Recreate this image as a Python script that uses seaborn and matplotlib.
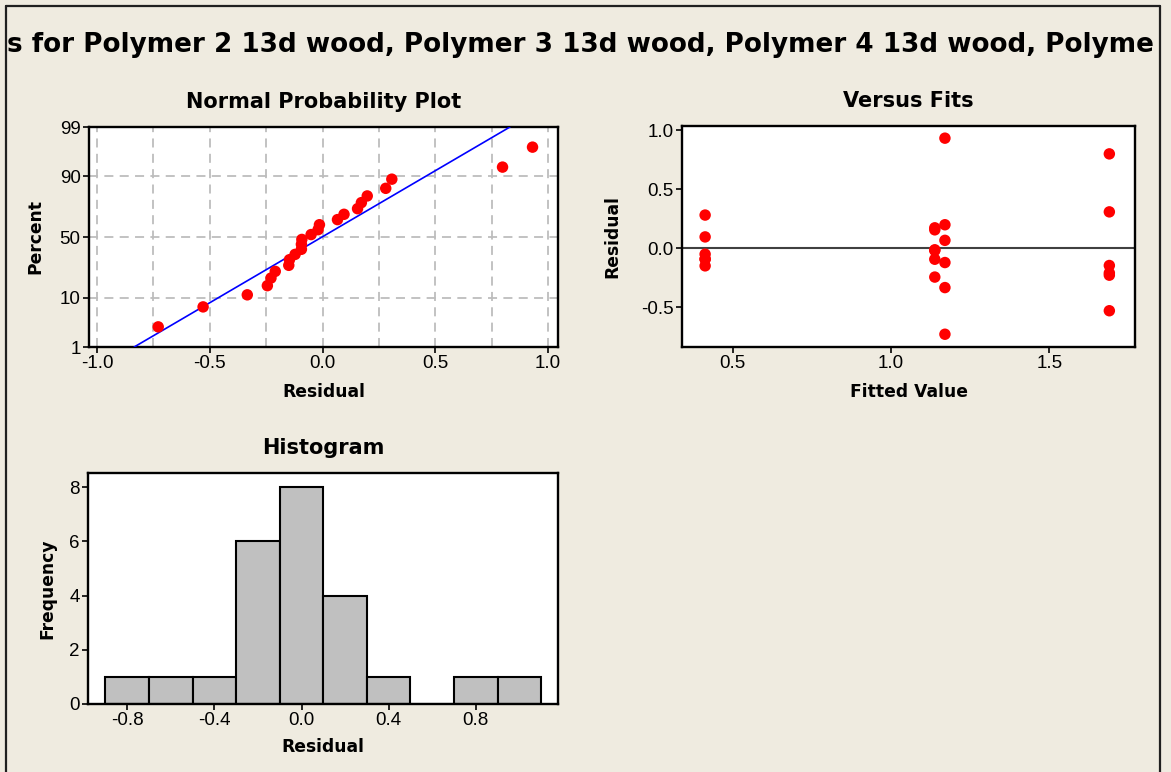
import numpy as np
import pandas as pd
import matplotlib
matplotlib.use("Agg")
import matplotlib.pyplot as plt
import seaborn as sns
from matplotlib.ticker import MultipleLocator, FixedLocator
from matplotlib.lines import Line2D
from statistics import NormalDist

# ---------------- data ----------------
fitted_levels = [0.413, 1.138, 1.170, 1.689]
res_g1 = [-0.150, -0.094, -0.092, -0.051, 0.095, 0.280]
res_g2 = [-0.245, -0.094, -0.020, -0.014, 0.155, 0.172]
res_g3 = [-0.729, -0.334, -0.122, 0.066, 0.198, 0.931]
res_g4 = [-0.530, -0.229, -0.210, -0.147, 0.307, 0.798]
pct_ticks = [1, 10, 50, 90, 99]
title_text = "s for Polymer 2 13d wood, Polymer 3 13d wood, Polymer 4 13d wood, Polyme"

groups = [res_g1, res_g2, res_g3, res_g4]
fitted = np.concatenate([[f] * len(g) for f, g in zip(fitted_levels, groups)])
resid = np.concatenate(groups)
df = pd.DataFrame({"fitted": fitted, "resid": resid})

nd = NormalDist()
n = len(resid)
srt = np.sort(resid)
pos = np.array([(i - 0.3) / (n + 0.4) for i in range(1, n + 1)])
zq = np.array([nd.inv_cdf(p) for p in pos])
prob_df = pd.DataFrame({"resid": srt, "z": zq})
mu, sd = resid.mean(), resid.std(ddof=1)
zl = np.linspace(nd.inv_cdf(0.01), nd.inv_cdf(0.99), 50)
line_df = pd.DataFrame({"x": mu + sd * zl, "z": zl})

# ---------------- style ----------------
sns.set_theme(style="white")
BG = "#EFEBE0"
plt.rcParams["font.family"] = ["DejaVu Sans"]
plt.rcParams["text.color"] = "black"
plt.rcParams["axes.labelcolor"] = "black"
plt.rcParams["axes.titlecolor"] = "black"
W, H = 1171, 772
fig = plt.figure(figsize=(W / 100, H / 100), dpi=100, facecolor=BG)

def px_axes(l, t, r, b):
    return fig.add_axes([l / W, 1 - b / H, (r - l) / W, (b - t) / H])

tick_font = dict(family="Liberation Sans", size=13.5)
lab_kw = dict(fontsize=12.3, fontweight="bold", color="black")
ttl_kw = dict(fontsize=15, fontweight="bold", color="black")

def style_axes(ax):
    ax.set_facecolor("white")
    for s in ax.spines.values():
        s.set_color("black")
        s.set_linewidth(1.7)
    ax.tick_params(which="major", direction="out", length=4, width=1.2,
                   color="black", labelcolor="black", pad=2,
                   bottom=True, left=True)
    for lbl in ax.get_xticklabels() + ax.get_yticklabels():
        lbl.set_fontfamily(tick_font["family"])
        lbl.set_fontsize(tick_font["size"])

# ---------------- Normal probability plot ----------------
ax1 = px_axes(89, 127, 558, 347)
ax1.set_xlim(-1.036, 1.044)
ax1.set_ylim(nd.inv_cdf(0.01), nd.inv_cdf(0.99))
ax1.xaxis.set_major_locator(FixedLocator([-1.0, -0.5, 0.0, 0.5, 1.0]))
ax1.xaxis.set_minor_locator(MultipleLocator(0.25))
ax1.yaxis.set_major_locator(FixedLocator([nd.inv_cdf(p / 100) for p in pct_ticks]))
ax1.set_yticklabels([str(p) for p in pct_ticks])
ax1.set_xticklabels(["-1.0", "-0.5", "0.0", "0.5", "1.0"])
ax1.grid(True, which="both", axis="x", color="#BDBDBD", linestyle=(0, (5, 3.5)), linewidth=1.3)
ax1.grid(True, which="major", axis="y", color="#BDBDBD", linestyle=(0, (5, 3.5)), linewidth=1.3)
ax1.tick_params(which="minor", length=0)
ax1.set_axisbelow(True)
sns.lineplot(data=line_df, x="x", y="z", ax=ax1, color="#0000FF", linewidth=1.2, zorder=3)
sns.scatterplot(data=prob_df, x="resid", y="z", ax=ax1, color="#FF0000", s=68,
                edgecolor="none", zorder=4)
style_axes(ax1)
ax1.set_title("Normal Probability Plot", pad=14, **ttl_kw)
ax1.set_xlabel("Residual", va="center", **lab_kw)
ax1.set_ylabel("Percent", va="center", **lab_kw)
ax1.xaxis.set_label_coords(0.5, -(392 - 347) / 220)
ax1.yaxis.set_label_coords(-(89 - 35) / 469, 0.5)

# ---------------- Versus fits ----------------
ax2 = px_axes(682, 126, 1135, 347)
ax2.set_xlim(0.34, 1.77)
ax2.set_ylim(-0.837, 1.034)
ax2.axhline(0, color="#404040", linewidth=1.5, zorder=2)
sns.scatterplot(data=df, x="fitted", y="resid", ax=ax2, color="#FF0000", s=68,
                edgecolor="none", zorder=4)
ax2.xaxis.set_major_locator(FixedLocator([0.5, 1.0, 1.5]))
ax2.yaxis.set_major_locator(FixedLocator([-0.5, 0.0, 0.5, 1.0]))
ax2.set_xticklabels(["0.5", "1.0", "1.5"])
ax2.set_yticklabels(["-0.5", "0.0", "0.5", "1.0"])
style_axes(ax2)
ax2.set_title("Versus Fits", pad=14, **ttl_kw)
ax2.set_xlabel("Fitted Value", va="center", **lab_kw)
ax2.set_ylabel("Residual", va="center", **lab_kw)
ax2.xaxis.set_label_coords(0.5, -(392 - 347) / 221)
ax2.yaxis.set_label_coords(-(682 - 612) / 453, 0.5)

# ---------------- Histogram ----------------
ax3 = px_axes(88, 473, 558, 704)
bin_edges = np.arange(-0.9, 1.1001, 0.2)
sns.histplot(x=resid, bins=bin_edges, ax=ax3, color="#C0C0C0", edgecolor="black",
             linewidth=1.5, alpha=1.0)
ax3.set_xlim(-0.98, 1.177)
ax3.set_ylim(0, 8.52)
ax3.xaxis.set_major_locator(FixedLocator([-0.8, -0.4, 0.0, 0.4, 0.8]))
ax3.yaxis.set_major_locator(FixedLocator([0, 2, 4, 6, 8]))
ax3.set_xticklabels(["-0.8", "-0.4", "0.0", "0.4", "0.8"])
ax3.set_yticklabels(["0", "2", "4", "6", "8"])
style_axes(ax3)
ax3.set_title("Histogram", pad=14, **ttl_kw)
ax3.set_xlabel("Residual", va="center", **lab_kw)
ax3.set_ylabel("Frequency", va="center", **lab_kw)
ax3.xaxis.set_label_coords(0.5, -(747 - 704) / 231)
ax3.yaxis.set_label_coords(-(88 - 47) / 470, 0.5)

# ---------------- figure title & frame ----------------
t = fig.text(7 / W, 1 - 45 / H, title_text, fontsize=18, fontweight="bold",
             ha="left", va="center", color="black")
fig.canvas.draw()
w = t.get_window_extent().width
t.set_fontsize(18 * 1152 / w)

for (x0, y0, x1, y1) in [(6, 6, 6, H), (6, 6, 1160, 6), (1160, 6, 1160, H)]:
    fig.add_artist(Line2D([x0 / W, x1 / W], [1 - y0 / H, 1 - y1 / H],
                          transform=fig.transFigure, color="#202020", linewidth=1.6))

fig.savefig("out.png", dpi=100, facecolor=BG)
